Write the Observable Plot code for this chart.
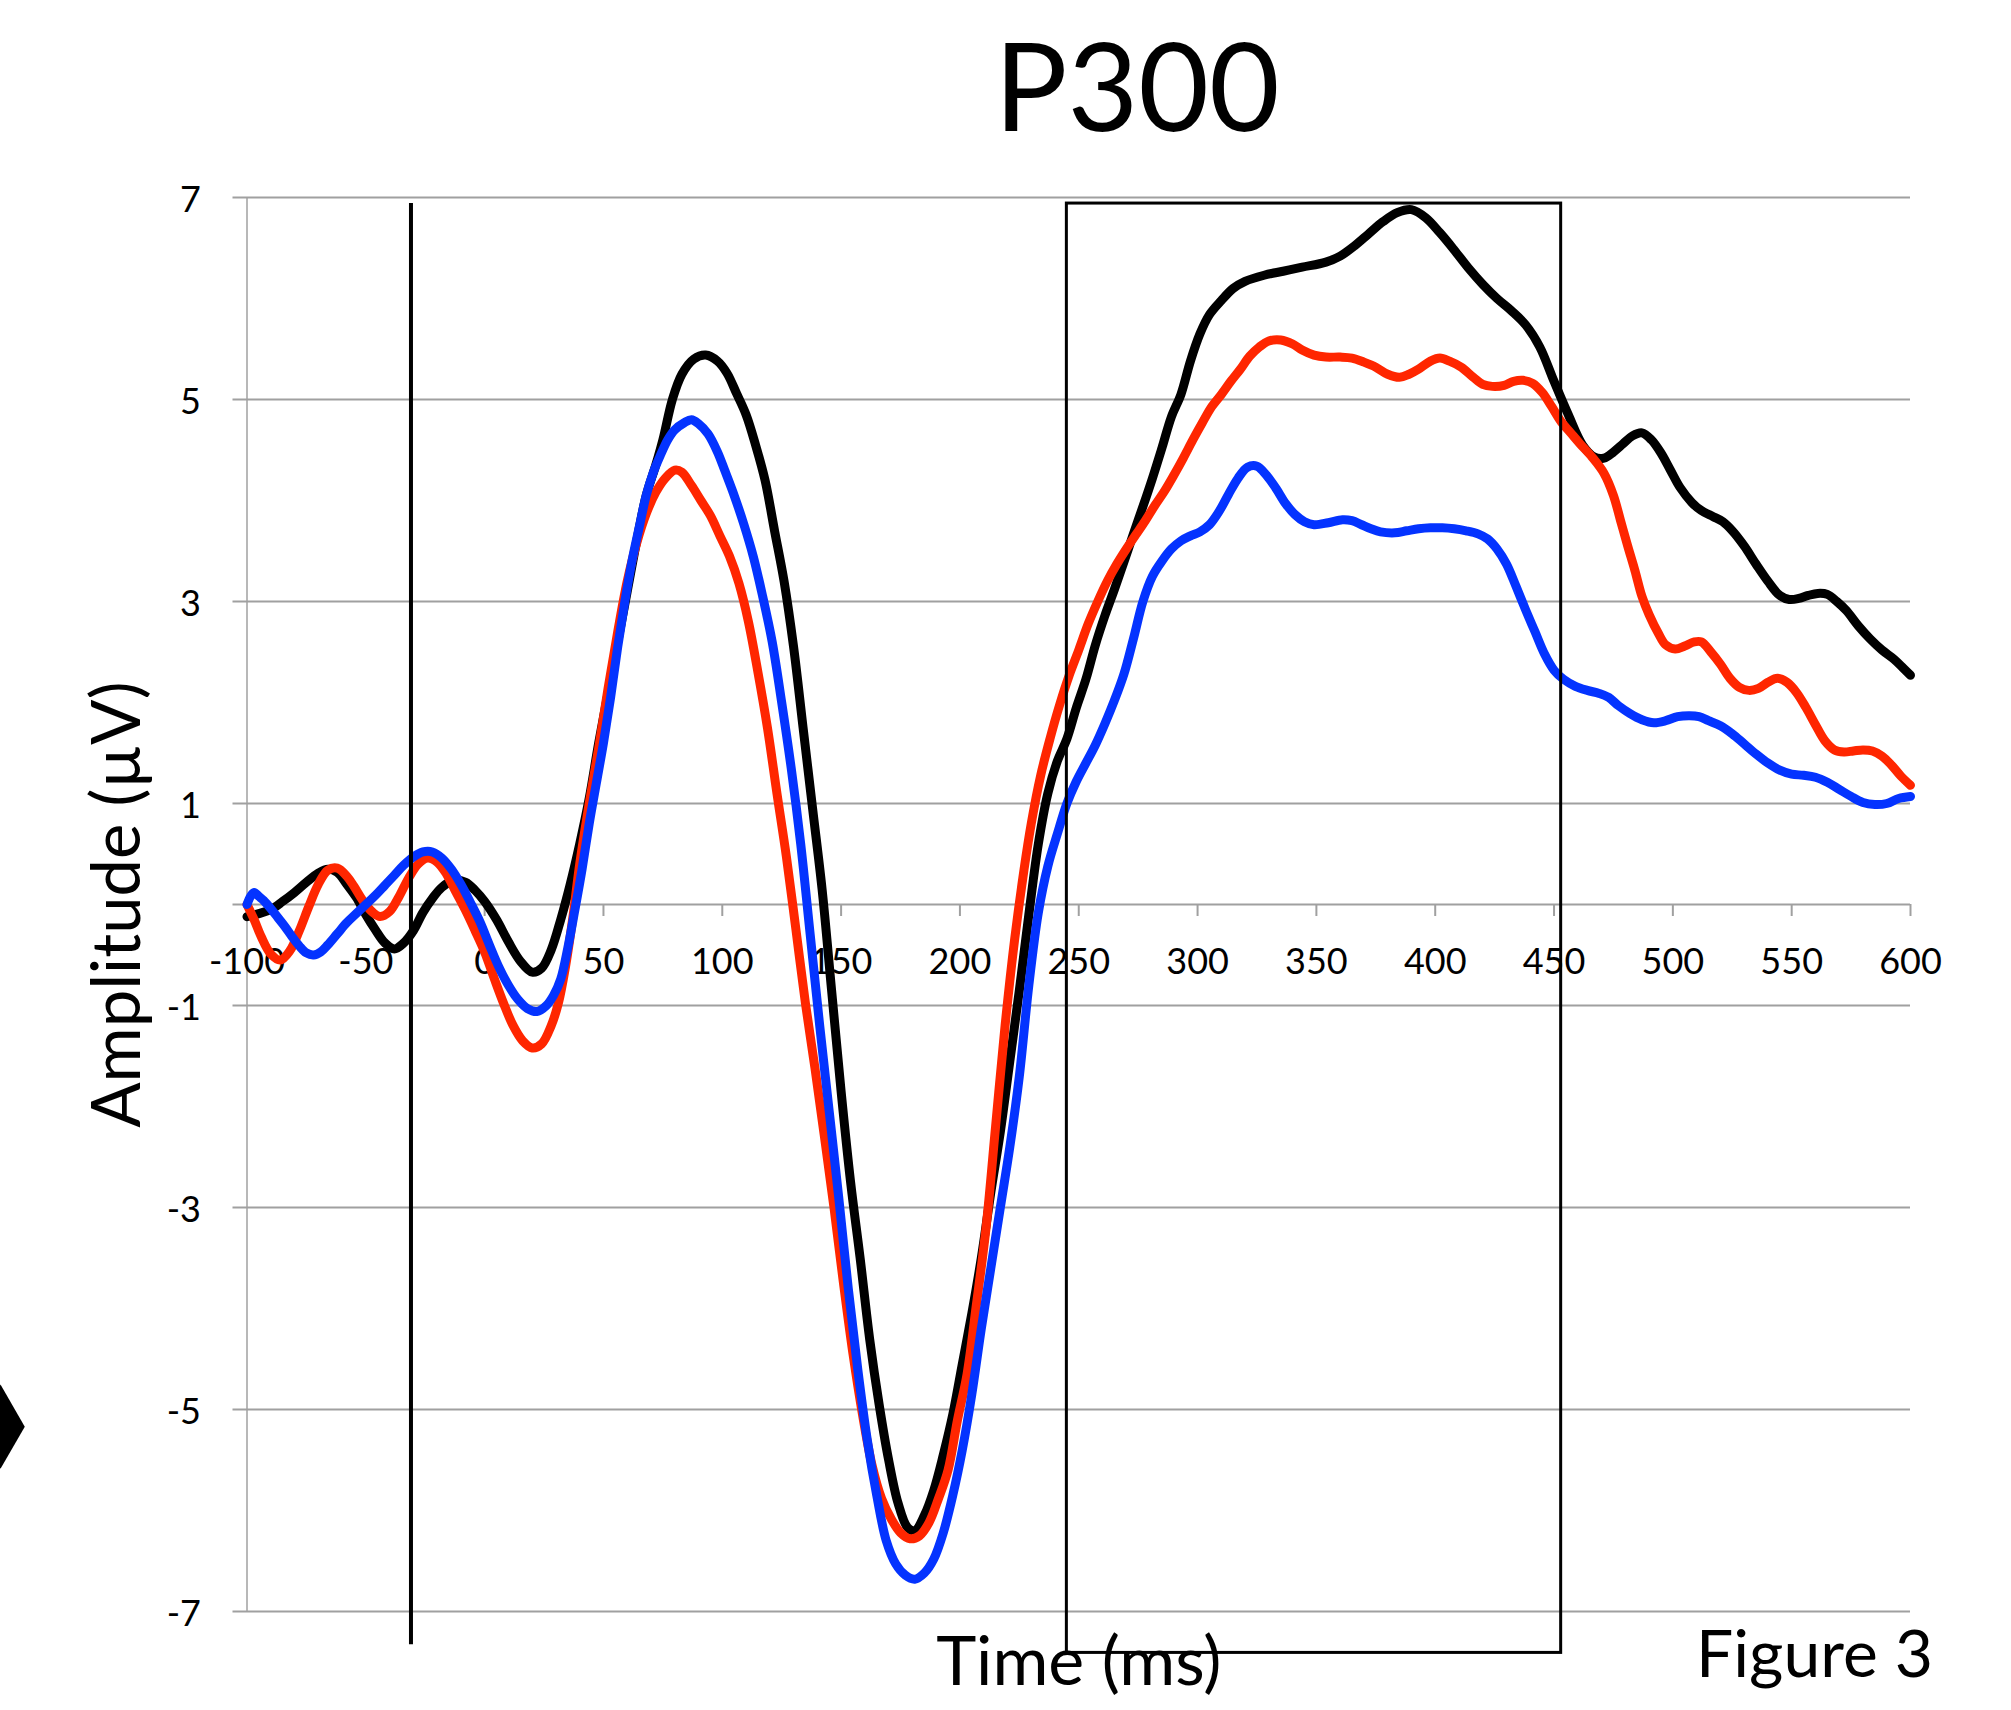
<!DOCTYPE html>
<html>
<head>
<meta charset="utf-8">
<script src="https://cdn.jsdelivr.net/npm/d3@7"></script>
<script src="https://cdn.jsdelivr.net/npm/@observablehq/plot@0.6"></script>
<style>
  html, body { margin: 0; padding: 0; background: #fff; }
  #title { position: relative; width: 2011px; height: 150px; }
  #title span { position: absolute; left: 1137px; top: 23px; transform: translateX(-50%);
    font-family: Lato, "Open Sans", sans-serif; font-size: 122px; line-height: 122px; color: #000; white-space: nowrap; }
  #chart svg { display: block; }
</style>
</head>
<body>
<div id="title"><span>P300</span></div>
<div id="chart"></div>
<script>
// ---- Data (time in ms, amplitude in µV) ----
const xTicks = [-100, -50, 0, 50, 100, 150, 200, 250, 300, 350, 400, 450, 500, 550, 600];
const yTicks = [-7, -5, -3, -1, 1, 3, 5, 7];

const black = [[-100,-0.12],[-95,-0.09],[-90,-0.05],[-85,0.03],[-80,0.12],[-75,0.22],[-70,0.31],[-66,0.35],[-62,0.32],[-58,0.2],[-54,0.07],[-50,-0.1],[-46,-0.25],[-42,-0.38],[-38,-0.44],[-34,-0.38],[-30,-0.26],[-26,-0.08],[-22,0.06],[-18,0.17],[-13,0.24],[-8,0.22],[-4,0.14],[0,0.03],[5,-0.15],[10,-0.37],[15,-0.56],[20,-0.67],[24,-0.63],[28,-0.45],[32,-0.15],[36,0.2],[40,0.6],[44,1.05],[48,1.6],[52,2.1],[56,2.6],[60,3.1],[64,3.6],[68,4.05],[72,4.35],[75,4.6],[79,5.0],[83,5.25],[88,5.4],[93,5.44],[98,5.38],[102,5.26],[106,5.06],[110,4.85],[114,4.55],[118,4.2],[122,3.7],[126,3.2],[130,2.55],[134,1.75],[138,0.95],[142,0.15],[146,-0.85],[150,-1.85],[154,-2.75],[158,-3.5],[162,-4.3],[166,-4.95],[170,-5.5],[174,-5.93],[178,-6.17],[181,-6.2],[185,-6.05],[189,-5.8],[193,-5.45],[197,-5.05],[201,-4.55],[205,-4.05],[209,-3.5],[213,-2.85],[217,-2.25],[221,-1.55],[225,-0.85],[229,-0.1],[233,0.6],[237,1.1],[241,1.42],[245,1.64],[249,1.95],[253,2.23],[257,2.57],[261,2.86],[265,3.12],[269,3.39],[273,3.67],[277,3.94],[281,4.22],[285,4.52],[289,4.83],[293,5.05],[297,5.38],[301,5.65],[305,5.84],[310,5.98],[315,6.1],[320,6.17],[328,6.23],[336,6.27],[344,6.31],[354,6.36],[360,6.42],[366,6.52],[372,6.64],[378,6.76],[384,6.85],[390,6.88],[396,6.8],[402,6.65],[408,6.48],[414,6.3],[420,6.14],[426,6.0],[432,5.88],[438,5.74],[444,5.52],[450,5.18],[456,4.85],[462,4.55],[467,4.43],[471,4.42],[475,4.48],[479,4.56],[483,4.64],[487,4.67],[491,4.6],[495,4.47],[499,4.3],[503,4.13],[508,3.98],[512,3.9],[517,3.84],[521,3.79],[525,3.7],[530,3.55],[535,3.37],[540,3.2],[545,3.06],[549,3.02],[553,3.03],[557,3.06],[561,3.08],[565,3.07],[569,3.0],[573,2.91],[578,2.76],[583,2.63],[588,2.52],[593,2.43],[597,2.34],[600,2.27]];

const red = [[-100,0.0],[-97,-0.15],[-94,-0.32],[-90,-0.49],[-86,-0.55],[-82,-0.46],[-78,-0.26],[-74,-0.02],[-70,0.2],[-66,0.34],[-62,0.36],[-58,0.28],[-55,0.18],[-51,0.03],[-47,-0.08],[-44,-0.12],[-40,-0.07],[-36,0.08],[-32,0.26],[-28,0.4],[-24,0.46],[-20,0.42],[-16,0.3],[-12,0.12],[-8,-0.06],[-4,-0.26],[0,-0.47],[4,-0.73],[8,-0.98],[12,-1.2],[16,-1.35],[20,-1.42],[24,-1.38],[28,-1.2],[31,-0.98],[34,-0.62],[37,-0.15],[40,0.4],[44,1.0],[48,1.55],[52,2.15],[56,2.7],[60,3.2],[64,3.58],[68,3.87],[72,4.08],[76,4.22],[80,4.3],[83,4.28],[87,4.15],[91,4.0],[95,3.85],[99,3.65],[103,3.45],[107,3.18],[111,2.8],[115,2.3],[119,1.75],[123,1.1],[127,0.47],[131,-0.25],[135,-0.98],[139,-1.62],[143,-2.3],[147,-3.0],[151,-3.75],[155,-4.45],[159,-5.05],[163,-5.55],[167,-5.88],[171,-6.08],[175,-6.22],[179,-6.28],[183,-6.25],[187,-6.12],[191,-5.88],[195,-5.6],[199,-5.1],[203,-4.65],[207,-3.95],[211,-3.2],[215,-2.2],[219,-1.2],[223,-0.35],[227,0.35],[230,0.8],[234,1.28],[238,1.65],[242,1.98],[246,2.27],[250,2.52],[254,2.78],[258,3.0],[262,3.2],[266,3.37],[270,3.52],[274,3.66],[278,3.8],[282,3.95],[286,4.09],[290,4.25],[294,4.42],[298,4.6],[302,4.77],[306,4.93],[310,5.05],[314,5.18],[318,5.3],[322,5.43],[326,5.52],[330,5.58],[335,5.59],[340,5.55],[344,5.49],[349,5.44],[354,5.42],[360,5.42],[365,5.41],[370,5.37],[375,5.32],[380,5.25],[385,5.22],[389,5.25],[393,5.3],[398,5.38],[402,5.41],[406,5.38],[411,5.32],[416,5.22],[420,5.15],[424,5.13],[429,5.14],[433,5.18],[437,5.19],[441,5.16],[445,5.07],[449,4.93],[453,4.78],[457,4.67],[461,4.56],[466,4.43],[471,4.27],[475,4.05],[478,3.8],[481,3.55],[484,3.31],[487,3.05],[490,2.87],[494,2.68],[497,2.57],[501,2.53],[505,2.56],[509,2.6],[512,2.6],[516,2.5],[520,2.38],[524,2.24],[528,2.15],[532,2.12],[536,2.14],[540,2.2],[544,2.24],[548,2.2],[552,2.1],[556,1.95],[560,1.78],[564,1.62],[568,1.53],[572,1.51],[576,1.52],[580,1.53],[584,1.52],[588,1.47],[592,1.38],[596,1.27],[600,1.18]];

const blue = [[-100,0.0],[-98.5,0.08],[-97,0.12],[-95,0.08],[-93,0.04],[-90,-0.04],[-87,-0.13],[-84,-0.22],[-81,-0.32],[-78,-0.41],[-75,-0.48],[-72,-0.5],[-69,-0.47],[-66,-0.4],[-62,-0.29],[-58,-0.18],[-54,-0.09],[-50,0.0],[-46,0.09],[-42,0.19],[-38,0.29],[-34,0.39],[-30,0.47],[-26,0.52],[-22,0.52],[-18,0.46],[-14,0.35],[-10,0.2],[-6,0.02],[-2,-0.17],[2,-0.4],[6,-0.62],[10,-0.8],[14,-0.94],[18,-1.03],[22,-1.06],[26,-1.0],[29,-0.9],[32,-0.74],[35,-0.43],[38,-0.05],[41,0.35],[44,0.8],[47,1.2],[50,1.6],[53,2.05],[56,2.55],[59,3.0],[62,3.4],[65,3.73],[68,4.05],[71,4.28],[74,4.45],[77,4.6],[80,4.7],[84,4.77],[87,4.8],[90,4.76],[94,4.66],[98,4.48],[101,4.3],[105,4.05],[109,3.77],[113,3.45],[117,3.05],[121,2.6],[125,2.0],[129,1.35],[133,0.6],[137,-0.3],[141,-1.2],[145,-2.05],[149,-2.9],[153,-3.8],[157,-4.6],[161,-5.3],[165,-5.85],[169,-6.3],[173,-6.53],[177,-6.64],[181,-6.68],[185,-6.62],[189,-6.48],[193,-6.22],[197,-5.85],[201,-5.4],[205,-4.85],[209,-4.2],[213,-3.6],[217,-3.0],[221,-2.4],[225,-1.7],[229,-0.8],[233,-0.08],[237,0.38],[241,0.7],[245,1.0],[249,1.22],[253,1.4],[257,1.58],[261,1.79],[265,2.02],[269,2.28],[273,2.63],[277,3.0],[281,3.25],[285,3.4],[289,3.52],[293,3.6],[297,3.65],[301,3.69],[305,3.76],[309,3.89],[313,4.06],[317,4.22],[321,4.33],[325,4.34],[329,4.25],[333,4.12],[337,3.97],[341,3.86],[345,3.79],[349,3.76],[355,3.78],[361,3.81],[365,3.8],[369,3.76],[373,3.72],[377,3.69],[383,3.68],[388,3.7],[393,3.72],[398,3.73],[403,3.73],[408,3.72],[413,3.7],[418,3.67],[422,3.62],[426,3.52],[430,3.37],[434,3.15],[438,2.92],[442,2.7],[446,2.48],[450,2.32],[454,2.23],[459,2.16],[464,2.12],[469,2.09],[473,2.05],[477,1.97],[482,1.89],[487,1.83],[492,1.8],[497,1.82],[502,1.86],[507,1.87],[511,1.86],[515,1.82],[520,1.77],[525,1.69],[530,1.59],[535,1.49],[540,1.4],[545,1.33],[550,1.29],[555,1.28],[560,1.26],[565,1.21],[570,1.14],[575,1.07],[580,1.01],[585,0.99],[590,1.0],[595,1.05],[600,1.07]];

// annotations
const markerLine = [{t: -31, from: -7.33, to: 6.94}];
const windowBox = [{t1: 245, t2: 453, v1: -7.41, v2: 6.94}];
const arrowMark = [{v: -5.17}];

const seriesColors = {black: "#000000", red: "#ff2600", blue: "#0433ff"};

// ---- Build ----
const toRows = (arr) => arr.map(([t, v]) => ({t, v}));
const grid = "#a0a0a0";
const tickFont = "Lato, 'Open Sans', sans-serif";
const titleFont = "Lato, 'Open Sans', sans-serif";
const lineStyle = {x: "t", y: "v", strokeWidth: 9, curve: "catmull-rom", strokeLinejoin: "round", strokeLinecap: "round"};

const chart = Plot.plot({
  width: 2011,
  height: 1560,
  marginTop: 47,
  marginBottom: 99,
  marginLeft: 246.5,
  marginRight: 101,
  x: {domain: [-100, 600], axis: null},
  y: {domain: [-7, 7], axis: null},
  marks: [
    Plot.ruleY(yTicks, {y: d => d, x1: -100, x2: 600, insetLeft: -14, stroke: grid, strokeWidth: 2}),
    Plot.ruleY([0], {x1: -100, x2: 600, insetLeft: -14, stroke: grid, strokeWidth: 2}),
    Plot.ruleX([-100], {y1: -7, y2: 7, stroke: grid, strokeWidth: 1.5}),
    Plot.ruleX(xTicks, {x: d => d, y1: 0, y2: 0, insetBottom: -12, stroke: grid, strokeWidth: 2}),
    Plot.text(xTicks, {x: d => d, y: 0, text: d => String(d), dy: 58, fontSize: 36, fontFamily: tickFont, fill: "#000"}),
    Plot.text(yTicks, {x: -100, y: d => d, text: d => String(d), dx: -46, dy: 3, textAnchor: "end", fontSize: 36, fontFamily: tickFont, fill: "#000"}),
    Plot.line(toRows(black), {...lineStyle, stroke: seriesColors.black}),
    Plot.line(toRows(red), {...lineStyle, stroke: seriesColors.red}),
    Plot.line(toRows(blue), {...lineStyle, stroke: seriesColors.blue}),
    Plot.ruleX(markerLine, {x: "t", y1: "from", y2: "to", stroke: "#000", strokeWidth: 4}),
    Plot.rect(windowBox, {x1: "t1", x2: "t2", y1: "v1", y2: "v2", fill: "none", stroke: "#000", strokeWidth: 3}),
    Plot.text(["Amplitude (µV)"], {frameAnchor: "left", rotate: -90, dx: -128, textAnchor: "middle", text: d => d, fontSize: 67, fontFamily: titleFont, fill: "#000"}),
    Plot.text(["Time (ms)"], {frameAnchor: "bottom", dy: 73, textAnchor: "middle", text: d => d, fontSize: 68, fontFamily: titleFont, fill: "#000"}),
    Plot.text(["Figure 3"], {frameAnchor: "bottom-right", dx: -96, dy: 65, textAnchor: "middle", text: d => d, fontSize: 66, fontFamily: titleFont, fill: "#000"}),
    Plot.dot(arrowMark, {y: "v", frameAnchor: "left", dx: -246.5, symbol: "diamond", r: 25.5, fill: "#000", stroke: "none"})
  ]
});
document.getElementById("chart").appendChild(chart);
</script>
</body>
</html>
